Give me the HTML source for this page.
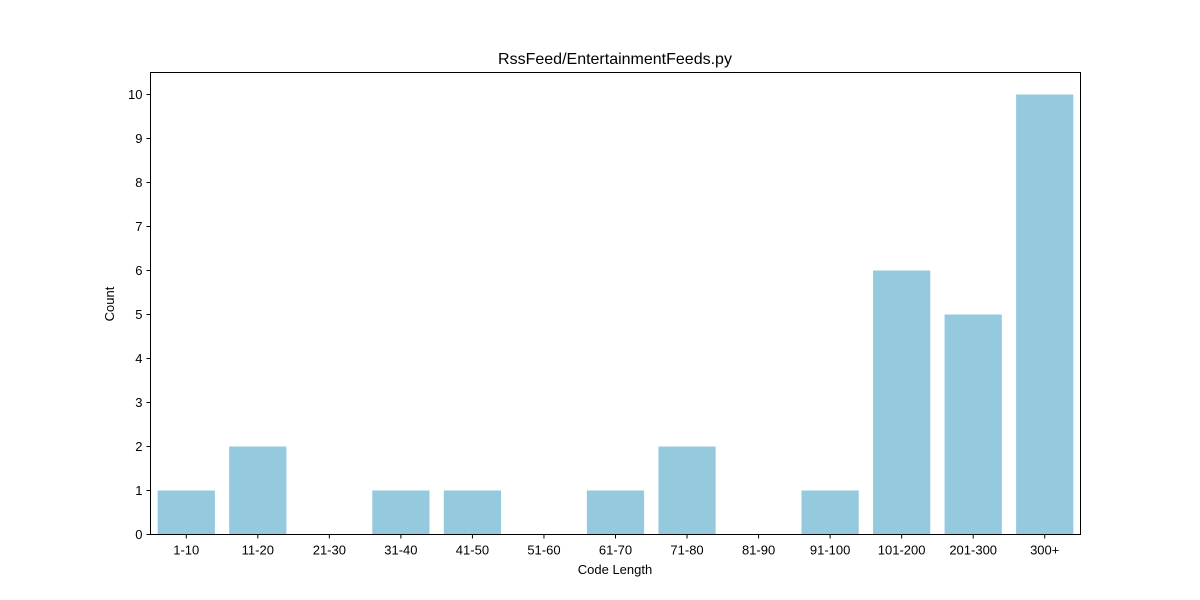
<!DOCTYPE html>
<html><head><meta charset="utf-8"><style>
body{margin:0;background:#fff;}
svg{display:block;font-family:"Liberation Sans","DejaVu Sans",sans-serif;}
</style></head><body>
<svg id="chart" width="1200" height="600">
<text x="615" y="64" text-anchor="middle" font-size="16">RssFeed/EntertainmentFeeds.py</text>
<g id="bars"></g>
<g id="xticks"></g>
<g id="yticks"></g>
<rect x="150.5" y="72.5" width="930" height="462" fill="none" stroke="#000" stroke-width="1"/>
<text x="615" y="574" text-anchor="middle" font-size="13">Code Length</text>
<text x="114" y="304" text-anchor="middle" font-size="13" transform="rotate(-90 114 304)">Count</text>
</svg>
<script>
const categories=["1-10","11-20","21-30","31-40","41-50","51-60","61-70","71-80","81-90","91-100","101-200","201-300","300+"];
const counts=[1,2,0,1,1,0,1,2,0,1,6,5,10];
const yTicks=[0,1,2,3,4,5,6,7,8,9,10];
const ns="http://www.w3.org/2000/svg";
const L=150.5,R=1080.5,T=72.5,B=534.5;
const step=(R-L)/categories.length;
const x=i=>L+step*(i+0.5);
const y=v=>B-v*44;
const bars=document.getElementById('bars'),xt=document.getElementById('xticks'),yt=document.getElementById('yticks');
categories.forEach((c,i)=>{
  const r=document.createElementNS(ns,'rect');
  r.setAttribute('x',x(i)-step*0.4);r.setAttribute('width',step*0.8);
  r.setAttribute('y',y(counts[i]));r.setAttribute('height',B-y(counts[i]));
  r.setAttribute('fill','#95c9de');
  
  
  bars.appendChild(r);
  const l=document.createElementNS(ns,'line');
  l.setAttribute('x1',x(i));l.setAttribute('x2',x(i));l.setAttribute('y1',B);l.setAttribute('y2',B+4);l.setAttribute('stroke','#000');
  
  
  xt.appendChild(l);
  const t=document.createElementNS(ns,'text');
  t.setAttribute('x',x(i));t.setAttribute('y',B+20);t.setAttribute('text-anchor','middle');t.setAttribute('font-size','13');
  t.textContent=c;
  
  
  xt.appendChild(t);
});
yTicks.forEach(v=>{
  const l=document.createElementNS(ns,'line');
  l.setAttribute('x1',L-4);l.setAttribute('x2',L);l.setAttribute('y1',y(v));l.setAttribute('y2',y(v));l.setAttribute('stroke','#000');
  
  
  yt.appendChild(l);
  const t=document.createElementNS(ns,'text');
  t.setAttribute('x',L-8);t.setAttribute('y',y(v)+4.5);t.setAttribute('text-anchor','end');t.setAttribute('font-size','13');
  t.textContent=v;
  
  
  yt.appendChild(t);
});
</script>
</body></html>
